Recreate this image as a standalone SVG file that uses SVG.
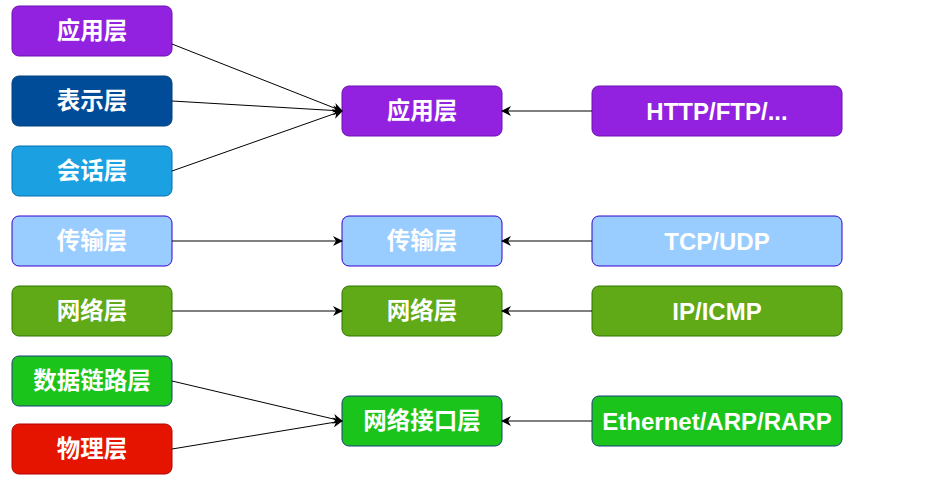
<svg xmlns="http://www.w3.org/2000/svg" width="927" height="486" viewBox="0 0 927 486">
<defs>
<marker id="ah" viewBox="0 0 10 10" refX="9" refY="5" markerWidth="10" markerHeight="10" markerUnits="userSpaceOnUse" orient="auto">
<path d="M0,0 L10,5 L0,10 L3,5 Z" fill="#000"/>
</marker>
<style>
rect{stroke-width:1}
text{font-family:"Liberation Sans","Noto Sans CJK SC",sans-serif;font-weight:bold;font-size:24px;fill:#fff;text-anchor:middle;dominant-baseline:central}
.cjk{font-size:23.5px}
.purple{fill:#9321E0;stroke:#6A10B0}
.dblue{fill:#004C99;stroke:#00407F}
.lblue{fill:#1BA1E2;stroke:#006EAF}
.pblue{fill:#99CCFF;stroke:#3700CC}
.dgreen{fill:#60A917;stroke:#2D7600}
.bgreen{fill:#1BC41B;stroke:#1B3F7F}
.red{fill:#E51400;stroke:#B20000}
.c{stroke:#000;stroke-width:1;fill:none;marker-end:url(#ah)}
</style>
</defs>
<g id="l1"><rect class="purple" x="12" y="6" width="160" height="50" rx="7"/><text class="cjk" x="92" y="31">应用层</text></g>
<g id="l2"><rect class="dblue" x="12" y="76" width="160" height="50" rx="7"/><text class="cjk" x="92" y="101">表示层</text></g>
<g id="l3"><rect class="lblue" x="12" y="146" width="160" height="50" rx="7"/><text class="cjk" x="92" y="171">会话层</text></g>
<g id="l4"><rect class="pblue" x="12" y="216" width="160" height="50" rx="7"/><text class="cjk" x="92" y="241">传输层</text></g>
<g id="l5"><rect class="dgreen" x="12" y="286" width="160" height="50" rx="7"/><text class="cjk" x="92" y="311">网络层</text></g>
<g id="l6"><rect class="bgreen" x="12" y="356" width="160" height="50" rx="7"/><text class="cjk" x="92" y="381">数据链路层</text></g>
<g id="l7"><rect class="red" x="12" y="424" width="160" height="50" rx="7"/><text class="cjk" x="92" y="449">物理层</text></g>
<g id="m1"><rect class="purple" x="342" y="86" width="160" height="50" rx="7"/><text class="cjk" x="422" y="111">应用层</text></g>
<g id="m2"><rect class="pblue" x="342" y="216" width="160" height="50" rx="7"/><text class="cjk" x="422" y="241">传输层</text></g>
<g id="m3"><rect class="dgreen" x="342" y="286" width="160" height="50" rx="7"/><text class="cjk" x="422" y="311">网络层</text></g>
<g id="m4"><rect class="bgreen" x="342" y="396" width="160" height="50" rx="7"/><text class="cjk" x="422" y="421">网络接口层</text></g>
<g id="r1"><rect class="purple" x="592" y="86" width="250" height="50" rx="7"/><text x="717" y="111">HTTP/FTP/...</text></g>
<g id="r2"><rect class="pblue" x="592" y="216" width="250" height="50" rx="7"/><text x="717" y="241">TCP/UDP</text></g>
<g id="r3"><rect class="dgreen" x="592" y="286" width="250" height="50" rx="7"/><text x="717" y="311">IP/ICMP</text></g>
<g id="r4"><rect class="bgreen" x="592" y="396" width="250" height="50" rx="7"/><text x="717" y="421">Ethernet/ARP/RARP</text></g>
<g id="connectors">
<path class="c" d="M172,44 L342,111"/>
<path class="c" d="M172,101 L342,111"/>
<path class="c" d="M172,171 L342,111"/>
<path class="c" d="M172,241 L342,241"/>
<path class="c" d="M172,311 L342,311"/>
<path class="c" d="M172,381 L342,421"/>
<path class="c" d="M172,449 L342,421"/>
<path class="c" d="M592,111 L502,111"/>
<path class="c" d="M592,241 L502,241"/>
<path class="c" d="M592,311 L502,311"/>
<path class="c" d="M592,421 L502,421"/>
</g>
</svg>
